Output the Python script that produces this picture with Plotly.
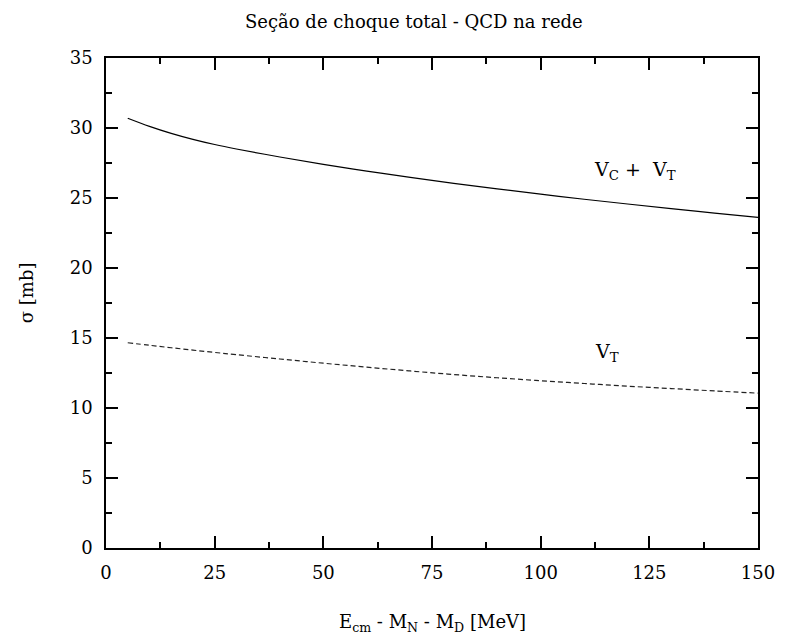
import plotly.graph_objects as go

energy = [5, 10, 15, 20, 25, 30, 40, 50, 60, 70, 80, 90, 100, 110, 120, 130, 140, 150]
sigma_vc_vt = [30.70, 30.12, 29.62, 29.19, 28.82, 28.50, 27.93, 27.40, 26.92, 26.47, 26.05, 25.65,
               25.27, 24.91, 24.57, 24.24, 23.92, 23.61]
sigma_vt = [14.66, 14.48, 14.305, 14.135, 13.97, 13.81, 13.50, 13.20, 12.915, 12.645, 12.39, 12.16,
            11.95, 11.75, 11.56, 11.39, 11.22, 11.06]
x_ticks = [0, 25, 50, 75, 100, 125, 150]
y_ticks = [0, 5, 10, 15, 20, 25, 30, 35]

FONT = "DejaVu Serif"

fig = go.Figure()
fig.add_trace(go.Scatter(x=energy, y=sigma_vc_vt, mode="lines", line=dict(color="black", width=1.2),
                         line_shape="spline", showlegend=False))
fig.add_trace(go.Scatter(x=energy, y=sigma_vt, mode="lines",
                         line=dict(color="#222", width=1.2, dash="5px,3px"),
                         line_shape="spline", showlegend=False))

axis_common = dict(showgrid=False, zeroline=False, showline=True, linecolor="black", linewidth=1.5,
                   mirror="allticks", ticks="inside", ticklen=12, tickwidth=1.5, tickcolor="black",
                   tickfont=dict(family=FONT, size=18, color="black"))

fig.update_xaxes(range=[0, 150], tickvals=x_ticks, ticklabelstandoff=8,
                 minor=dict(ticks="inside", ticklen=6, dtick=12.5, tick0=0, tickwidth=1.5, tickcolor="black"),
                 **axis_common)
fig.update_yaxes(range=[0, 35], tickvals=y_ticks, ticklabelstandoff=8,
                 minor=dict(ticks="inside", ticklen=6, dtick=2.5, tick0=0, tickwidth=1.5, tickcolor="black"),
                 **axis_common)

annots = [
    dict(text="Seção de choque total - QCD na rede", x=0.473, y=1.0735, xref="paper", yref="paper",
         showarrow=False, font=dict(family=FONT, size=18, color="black"), xanchor="center", yanchor="middle"),
    dict(text="E<sub>cm</sub> - M<sub>N</sub> - M<sub>D</sub> [MeV]", x=0.5, y=-0.153, xref="paper", yref="paper",
         showarrow=False, font=dict(family=FONT, size=18, color="black"), xanchor="center", yanchor="middle"),
    dict(text="σ [mb]", x=-0.1227, y=0.522, xref="paper", yref="paper", textangle=-90,
         showarrow=False, font=dict(family=FONT, size=18, color="black"), xanchor="center", yanchor="middle"),
    dict(text="V<sub>C</sub> +  V<sub>T</sub>", x=121.6, y=27.0, xref="x", yref="y",
         showarrow=False, font=dict(family=FONT, size=19, color="black"), xanchor="center", yanchor="middle"),
    dict(text="V<sub>T</sub>", x=115.2, y=14.0, xref="x", yref="y",
         showarrow=False, font=dict(family=FONT, size=19, color="black"), xanchor="center", yanchor="middle"),
]

fig.update_layout(width=787, height=644, margin=dict(l=106, r=21, t=58, b=96),
                  plot_bgcolor="white", paper_bgcolor="white", annotations=annots,
                  font=dict(family=FONT, color="black"))

fig.write_html("out.html")
